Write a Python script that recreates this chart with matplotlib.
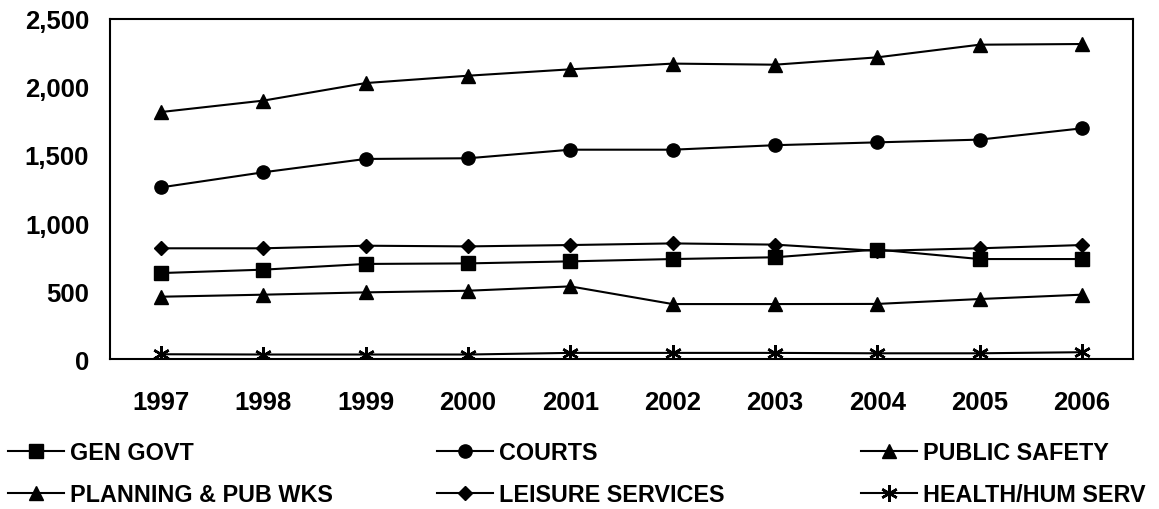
import matplotlib
matplotlib.use("Agg")
import matplotlib.pyplot as plt
from matplotlib.ticker import FuncFormatter

plt.rcParams['font.family'] = ['Liberation Sans', 'DejaVu Sans']
plt.rcParams['font.weight'] = 'bold'

years = ['1997', '1998', '1999', '2000', '2001', '2002', '2003', '2004', '2005', '2006']

gen_govt = [632, 657, 699, 703, 718, 735, 748, 805, 735, 735]
courts = [1262, 1373, 1471, 1476, 1539, 1539, 1572, 1593, 1613, 1696]
public_safety = [1816, 1900, 2029, 2083, 2130, 2172, 2164, 2218, 2311, 2316]
planning = [458, 473, 490, 502, 534, 404, 404, 405, 441, 473]
leisure = [814, 814, 833, 828, 838, 850, 841, 795, 814, 838]
health = [35, 33, 33, 33, 45, 45, 45, 42, 42, 50]

series = [
    ('GEN GOVT', gen_govt, dict(marker='s', ms=9.5)),
    ('PLANNING & PUB WKS', planning, dict(marker='^', ms=10)),
    ('COURTS', courts, dict(marker='o', ms=9.5)),
    ('LEISURE SERVICES', leisure, dict(marker='D', ms=7)),
    ('PUBLIC SAFETY', public_safety, dict(marker='^', ms=10)),
    ('HEALTH/HUM SERV', health, dict(marker=(6, 2, 0), ms=12, mew=1.8)),
]

fig = plt.figure(figsize=(11.59, 5.10), dpi=100)
ax = fig.add_axes([0.0949, 0.2941, 0.8827, 0.6667])

handles = []
for name, vals, style in series:
    h, = ax.plot(range(len(years)), vals, color='black', lw=1.5,
                 mfc='black', mec='black', label=name, **style)
    handles.append(h)

ax.set_xlim(-0.5, len(years) - 0.5)
ax.set_ylim(0, 2500)
ax.set_yticks(range(0, 2501, 500))
ax.yaxis.set_major_formatter(FuncFormatter(lambda v, p: f'{int(v):,}'))
ax.set_xticks(range(len(years)))
ax.set_xticklabels(years)
ax.tick_params(axis='y', length=0, pad=15, labelsize=18.5)
ax.tick_params(axis='x', length=0, pad=22, labelsize=18.5)
for s in ax.spines.values():
    s.set_linewidth(1.5)

# legend in three columns, two rows each
col_x = [8 / 1159, 437 / 1159, 861 / 1159]
for i, x in enumerate(col_x):
    fig.legend(handles=handles[2 * i:2 * i + 2], loc='upper left',
               bbox_to_anchor=(x, 1 - 442 / 510), frameon=False,
               borderpad=0, borderaxespad=0, handlelength=2.4,
               handletextpad=0.26, labelspacing=0.82, fontsize=16.8)

fig.savefig('out.png', dpi=100)
